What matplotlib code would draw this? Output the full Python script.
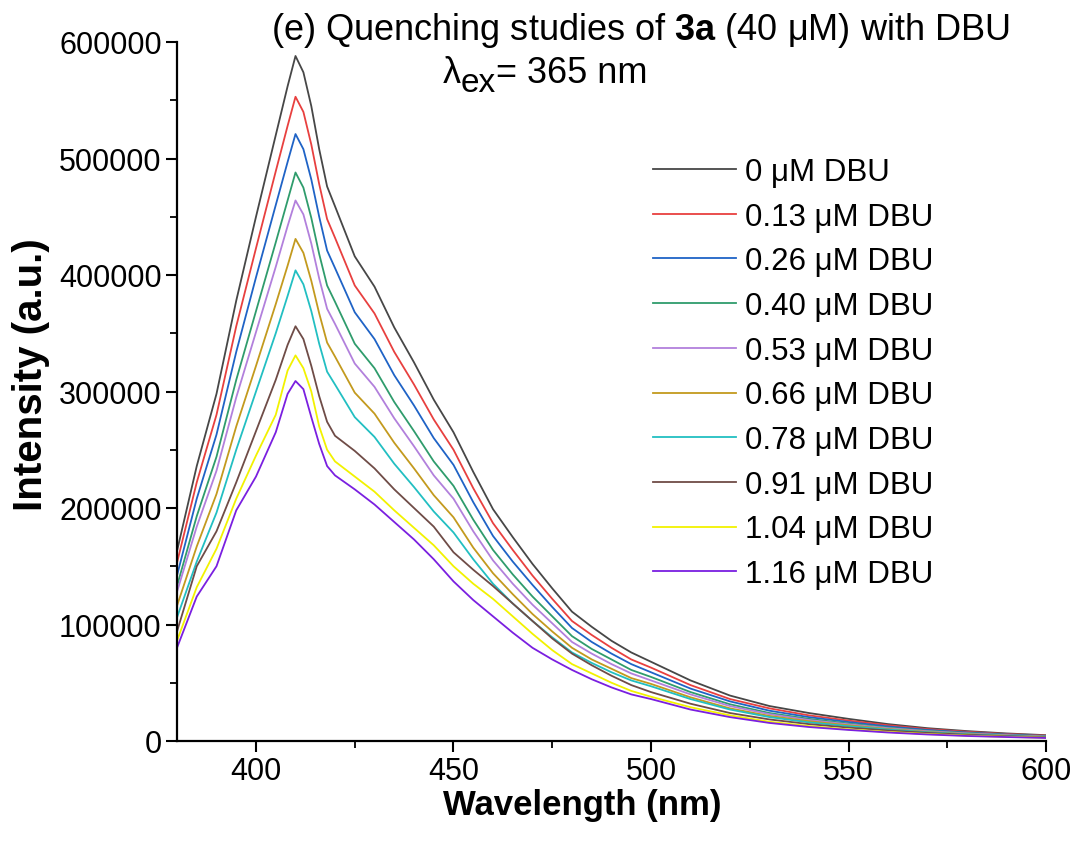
import matplotlib
matplotlib.use("Agg")
import matplotlib.pyplot as plt
from matplotlib.ticker import MultipleLocator

plt.rcParams['font.family'] = ['Liberation Sans', 'DejaVu Sans']
plt.rcParams['mathtext.fontset'] = 'custom'
plt.rcParams['mathtext.rm'] = 'Liberation Sans'
plt.rcParams['mathtext.bf'] = 'Liberation Sans:bold'

wavelength = [380, 385, 390, 395, 400, 405, 408, 410, 412, 414, 416, 418, 420, 425, 430,
              435, 440, 445, 450, 455, 460, 465, 470, 475, 480, 485, 490, 495, 500, 510,
              520, 530, 540, 550, 560, 570, 580, 590, 600]

# intensities in thousands (a.u.)
i_0_00 = [163, 236, 298, 378, 450, 520, 562, 588, 574, 545, 508, 476, 459, 416, 390,
          355, 325, 293, 265, 231, 199, 175, 152, 131, 111, 98, 86, 76, 68, 52,
          39, 30, 24, 19, 14.5, 11, 8.5, 6.5, 5]
i_0_13 = [153, 222, 280, 356, 423, 489, 528, 553, 540, 512, 478, 448, 432, 391, 367,
          334, 306, 276, 250, 217, 187, 164, 142, 122, 103, 91, 80, 70, 63, 48,
          36, 28, 22, 17.5, 13.5, 10.2, 7.9, 6, 4.6]
i_0_26 = [142, 208, 263, 334, 398, 460, 497, 521, 508, 482, 450, 421, 406, 368, 345,
          314, 288, 260, 237, 205, 176, 154, 134, 115, 97, 85, 75, 66, 59, 45,
          34, 26, 20.5, 16.3, 12.5, 9.5, 7.3, 5.6, 4.3]
i_0_40 = [133, 193, 244, 310, 369, 428, 464, 488, 475, 449, 418, 391, 377, 341, 320,
          291, 266, 240, 219, 190, 164, 143, 124, 107, 90, 79, 70, 61, 55, 42,
          31.5, 24, 19, 15, 11.5, 8.8, 6.8, 5.2, 4]
i_0_53 = [128, 184, 232, 295, 351, 407, 442, 464, 452, 427, 397, 371, 358, 324, 304,
          277, 253, 228, 208, 180, 155, 135, 117, 101, 85, 75, 66, 58, 52, 40,
          30, 23, 18, 14.3, 11, 8.4, 6.5, 5, 3.8]
i_0_66 = [116, 167, 212, 270, 322, 375, 408, 431, 419, 395, 367, 342, 330, 299, 281,
          256, 234, 211, 192, 166, 144, 126, 109, 94, 80, 70, 62, 54, 49, 37.5,
          28, 21.5, 17, 13.5, 10.3, 7.8, 6, 4.6, 3.5]
i_0_78 = [106, 154, 196, 250, 300, 350, 382, 404, 392, 369, 341, 317, 306, 278, 261,
          238, 218, 197, 179, 156, 135, 118, 103, 89, 76, 67, 59, 52, 47, 36,
          27, 20.5, 16, 12.7, 9.8, 7.5, 5.7, 4.4, 3.4]
i_0_91 = [94, 150, 180, 222, 266, 310, 340, 356, 345, 322, 296, 274, 262, 249, 234,
          216, 200, 184, 162, 147, 133, 118, 103, 88, 75, 65, 56, 48, 42, 32,
          24, 18.5, 14.5, 11.5, 9, 7, 5.3, 4.1, 3.2]
i_1_04 = [86, 132, 165, 208, 245, 280, 318, 331, 320, 300, 270, 250, 240, 227, 214,
          198, 183, 168, 150, 135, 122, 107, 92, 78, 66, 58, 50, 43, 38, 29,
          22, 16.5, 12.8, 10, 7.8, 6, 4.6, 3.6, 2.8]
i_1_16 = [80, 124, 150, 198, 227, 265, 298, 309, 302, 278, 255, 236, 228, 216, 203,
          188, 173, 156, 137, 121, 107, 93, 80, 70, 61, 53, 46, 40, 36, 27,
          20.5, 15.5, 12, 9.5, 7.3, 5.6, 4.3, 3.4, 2.6]

series = [i_0_00, i_0_13, i_0_26, i_0_40, i_0_53, i_0_66, i_0_78, i_0_91, i_1_04, i_1_16]
labels = ["0 μM DBU", "0.13 μM DBU", "0.26 μM DBU", "0.40 μM DBU", "0.53 μM DBU",
          "0.66 μM DBU", "0.78 μM DBU", "0.91 μM DBU", "1.04 μM DBU", "1.16 μM DBU"]
colors = ['#474747', '#e8403f', '#1f63c6', '#2f9c6c', '#b280dc', '#c39a1e',
          '#22bfc2', '#6f4c47', '#f2f200', '#7a1fe0']

W, H = 1074, 845
fig = plt.figure(figsize=(W / 100, H / 100), dpi=100)
ax = fig.add_axes([177 / W, 1 - 742 / H, (1046 - 177) / W, (742 - 43) / H])

for vals, lab, col in zip(series, labels, colors):
    ax.plot(wavelength, [v * 1000 for v in vals], color=col, lw=1.3, label=lab)

ax.set_xlim(380, 600)
ax.set_ylim(0, 600000)
ax.xaxis.set_major_locator(MultipleLocator(50))
ax.xaxis.set_minor_locator(MultipleLocator(25))
ax.yaxis.set_major_locator(MultipleLocator(100000))
ax.yaxis.set_minor_locator(MultipleLocator(50000))
for s in ['top', 'right']:
    ax.spines[s].set_visible(False)
for s in ['left', 'bottom']:
    ax.spines[s].set_linewidth(1.6)
ax.tick_params(which='major', direction='out', length=8, width=1.5, labelsize=22, pad=3)
ax.tick_params(which='minor', direction='out', length=5, width=1.3)

ax.set_xlabel("Wavelength (nm)", fontsize=25, fontweight='bold')
ax.xaxis.set_label_coords((582 - 177) / 869, -(806 - 742) / 699)
ax.xaxis.label.set_va('center')
ax.set_ylabel("Intensity (a.u.)", fontsize=29, fontweight='bold')
ax.yaxis.set_label_coords(-(177 - 31) / 869, (742 - 375) / 699)
ax.yaxis.label.set_va('center')

fig.text(640 / W, 1 - 30 / H, r"(e) Quenching studies of $\mathbf{3a}$ (40 μM) with DBU",
         fontsize=26, ha='center', va='center')
fig.text(443 / W, 1 - 83 / H, "λ", fontsize=26, ha='left', va='baseline')
fig.text(461 / W, 1 - 92 / H, "ex", fontsize=24, ha='left', va='baseline')
fig.text(496 / W, 1 - 83 / H, "= 365 nm", fontsize=26, ha='left', va='baseline')

leg = ax.legend(loc='upper left', bbox_to_anchor=((653 - 177) / 869, (742 - 158) / 699),
                frameon=False, fontsize=22.5, handlelength=2.65, handletextpad=0.3,
                labelspacing=0.47, borderpad=0, borderaxespad=0)

fig.savefig("out.png", dpi=100)
